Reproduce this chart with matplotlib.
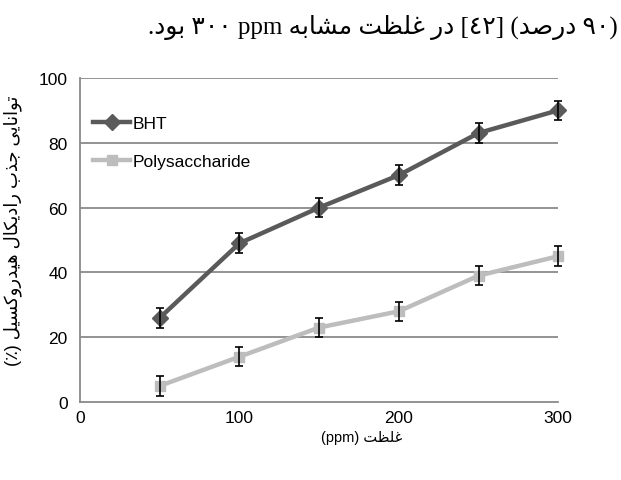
import matplotlib
matplotlib.use('Agg')
import matplotlib.pyplot as plt
from matplotlib.lines import Line2D

# concentration (ppm) and scavenging activity (%)
conc = [50, 100, 150, 200, 250, 300]
bht = [26, 49, 60, 70, 83, 90]
bht_err = [3, 3, 3, 3, 3, 3]
poly = [5, 14, 23, 28, 39, 45]
poly_err = [3, 3, 3, 3, 3, 3]

series_names = ['BHT', 'Polysaccharide']
x_ticks = [0, 100, 200, 300]
y_ticks = [0, 20, 40, 60, 80, 100]

top_line = '(۹۰ درصد) [٤٢] در غلظت مشابه ppm ۳۰۰ بود.'
y_title = 'توانایی جذب رادیکال هیدروکسیل (٪)'
x_title = 'غلظت (ppm)'

# arabic presentation forms: isolated, final, initial, medial
FORMS = {
    'ا': (0xFE8D, 0xFE8E, None, None),
    'ب': (0xFE8F, 0xFE90, 0xFE91, 0xFE92),
    'ت': (0xFE95, 0xFE96, 0xFE97, 0xFE98),
    'ج': (0xFE9D, 0xFE9E, 0xFE9F, 0xFEA0),
    'د': (0xFEA9, 0xFEAA, None, None),
    'ذ': (0xFEAB, 0xFEAC, None, None),
    'ر': (0xFEAD, 0xFEAE, None, None),
    'س': (0xFEB1, 0xFEB2, 0xFEB3, 0xFEB4),
    'ش': (0xFEB5, 0xFEB6, 0xFEB7, 0xFEB8),
    'ص': (0xFEB9, 0xFEBA, 0xFEBB, 0xFEBC),
    'ظ': (0xFEC5, 0xFEC6, 0xFEC7, 0xFEC8),
    'غ': (0xFECD, 0xFECE, 0xFECF, 0xFED0),
    'ل': (0xFEDD, 0xFEDE, 0xFEDF, 0xFEE0),
    'م': (0xFEE1, 0xFEE2, 0xFEE3, 0xFEE4),
    'ن': (0xFEE5, 0xFEE6, 0xFEE7, 0xFEE8),
    'ه': (0xFEE9, 0xFEEA, 0xFEEB, 0xFEEC),
    'و': (0xFEED, 0xFEEE, None, None),
    'ی': (0xFBFC, 0xFBFD, 0xFBFE, 0xFBFF),
    'ک': (0xFB8E, 0xFB8F, 0xFB90, 0xFB91),
}
MIRROR = {'(': ')', ')': '(', '[': ']', ']': '['}


def shape(word):
    out = []
    for i, ch in enumerate(word):
        f = FORMS[ch]
        prev_joins = i > 0 and FORMS[word[i-1]][2] is not None
        next_joins = f[2] is not None and i < len(word) - 1
        if prev_joins and next_joins:
            c = f[3]
        elif prev_joins:
            c = f[1]
        elif next_joins:
            c = f[2]
        else:
            c = f[0]
        out.append(chr(c))
    return ''.join(reversed(out))


def rtl(text):
    # very small bidi: split in runs, shape arabic words, reverse run order
    tokens = []
    cur = ''
    kind = None
    for ch in text:
        k = 'ar' if ch in FORMS else ('ltr' if ch.isalnum() else 'n')
        if k == kind and k != 'n':
            cur += ch
        else:
            if cur:
                tokens.append((kind, cur))
            cur = ch
            kind = k
    if cur:
        tokens.append((kind, cur))
    vis = []
    for k, t in reversed(tokens):
        if k == 'ar':
            vis.append(shape(t))
        elif k == 'n':
            vis.append(MIRROR.get(t, t))
        else:
            vis.append(t)
    return ''.join(vis)


fig = plt.figure(figsize=(6.21, 4.81), dpi=100)
ax = fig.add_axes([0.129, 0.162, 0.77, 0.674])

tick_font = ['Liberation Sans', 'DejaVu Sans']
dark = '#5a5a5a'
light = '#bdbdbd'
grid_c = '#8a8a8a'

for y in y_ticks[1:]:
    ax.axhline(y, color=grid_c, lw=1.3, zorder=1)

ax.plot(conc, poly, color=light, lw=3.2, marker='s', ms=7.5, zorder=3, clip_on=False)
ax.errorbar(conc, poly, yerr=poly_err, fmt='none', ecolor='black', elinewidth=1.2,
            capsize=3, capthick=1.2, zorder=4, clip_on=False)
ax.plot(conc, bht, color=dark, lw=3.2, marker='D', ms=8.5, zorder=3, clip_on=False)
ax.errorbar(conc, bht, yerr=bht_err, fmt='none', ecolor='black', elinewidth=1.2,
            capsize=3, capthick=1.2, zorder=4, clip_on=False)

ax.set_xlim(0, 300)
ax.set_ylim(0, 100)
ax.set_xticks(x_ticks)
ax.set_yticks(y_ticks)
ax.tick_params(length=0, labelsize=12.5)
ax.tick_params(axis='y', pad=9)
ax.tick_params(axis='x', pad=6)
for lab in ax.get_xticklabels() + ax.get_yticklabels():
    lab.set_family(tick_font)
for s in ['top', 'right']:
    ax.spines[s].set_visible(False)
for s in ['left', 'bottom']:
    ax.spines[s].set_color(grid_c)
    ax.spines[s].set_linewidth(1.3)

handles = [Line2D([], [], color=dark, lw=3.2, marker='D', ms=8.5),
           Line2D([], [], color=light, lw=3.2, marker='s', ms=7.5)]
ax.legend(handles, series_names, loc='upper left', bbox_to_anchor=(-0.005, 0.93),
          frameon=False, handlelength=2.1, handletextpad=0.15, labelspacing=1.3,
          prop={'family': tick_font, 'size': 12.5})

fig.text(0.995, 0.942, rtl(top_line), ha='right', va='center', fontsize=18,
         family=['Liberation Serif', 'DejaVu Sans'])
fig.text(0.02, 0.52, rtl(y_title), ha='center', va='center', rotation=90,
         fontsize=13, family=['Liberation Sans', 'DejaVu Sans'])
fig.text(0.583, 0.089, rtl(x_title), ha='center', va='center', fontsize=10.5,
         family=['Liberation Sans', 'DejaVu Sans'])

fig.savefig('out.png', dpi=100)
